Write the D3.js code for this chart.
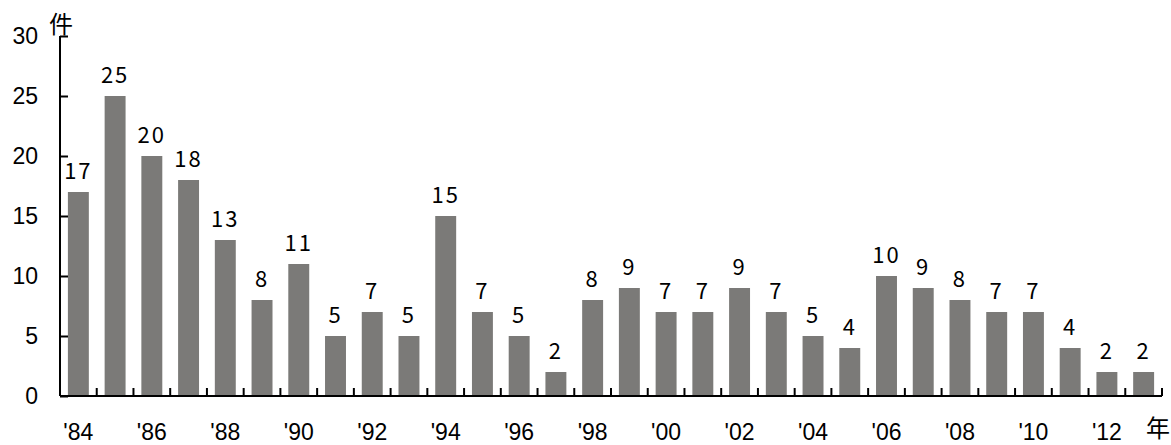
<!DOCTYPE html>
<html>
<head>
<meta charset="utf-8">
<script src="https://cdn.jsdelivr.net/npm/d3@7"></script>
<style>
  body { margin: 0; background: #fff; }
  text { fill: #000; }
</style>
</head>
<body>
<div id="chart"></div>
<script>
const years = d3.range(1984, 2014);
const counts = [17, 25, 20, 18, 13, 8, 11, 5, 7, 5, 15, 7, 5, 2, 8, 9, 7, 7, 9, 7, 5, 4, 10, 9, 8, 7, 7, 4, 2, 2];
const yTicks = [0, 5, 10, 15, 20, 25, 30];

document.addEventListener("DOMContentLoaded", draw)

function draw(){
    const width = 1171;
    const height = 445;
    const left = 60, right = 1162, top = 36, zero = 396;

    const svg = d3.select("#chart").append("svg")
        .attr("width", width)
        .attr("height", height);

    const x = d3.scaleBand()
        .domain(years)
        .range([left, right])
        .paddingInner(0.43)
        .paddingOuter(0.215);

    const y = d3.scaleLinear()
        .domain([0, 30])
        .range([zero, top]);

    // bars
    svg.append("g")
        .selectAll("rect")
        .data(counts)
        .enter()
        .append("rect")
        .attr("x", (d, i) => x(years[i]))
        .attr("y", d => y(d))
        .attr("width", x.bandwidth())
        .attr("height", d => y(0) - y(d))
        .attr("fill", "#7b7a78");

    // value labels
    svg.append("g")
        .selectAll("text")
        .data(counts)
        .enter()
        .append("text")
        .attr("x", (d, i) => x(years[i]) + x.bandwidth() / 2)
        .attr("y", d => y(d) - 13)
        .attr("text-anchor", "middle")
        .style("font-family", "'Noto Sans CJK JP', sans-serif")
        .style("font-size", "22px")
        .style("letter-spacing", "2px")
        .text(d => d);

    // y axis
    const yAxis = d3.axisRight(y)
        .tickValues(yTicks)
        .tickSize(8)
        .tickFormat("");
    svg.append("g")
        .attr("transform", "translate(" + left + ",0)")
        .call(yAxis)
        .call(g => g.select(".domain").attr("d", "M0," + top + "V" + zero))
        .call(g => g.selectAll("line, path").attr("stroke", "#000").attr("stroke-width", 2));

    svg.append("g")
        .selectAll("text")
        .data(yTicks)
        .enter()
        .append("text")
        .attr("x", 38)
        .attr("y", d => y(d))
        .attr("dy", "0.36em")
        .attr("text-anchor", "end")
        .style("font-family", "'Liberation Sans', Arial, sans-serif")
        .style("font-size", "23px")
        .text(d => d);

    // x axis: ticks between bars, pointing up
    const edges = years.map(yr => x(yr) - x.step() * x.paddingInner() / 2).concat([right]);
    const xAxisG = svg.append("g");
    xAxisG.append("line")
        .attr("x1", left).attr("x2", right)
        .attr("y1", zero).attr("y2", zero)
        .attr("stroke", "#000").attr("stroke-width", 2);
    xAxisG.selectAll(".tick")
        .data(edges.slice(1))
        .enter()
        .append("line")
        .attr("x1", d => d).attr("x2", d => d)
        .attr("y1", zero).attr("y2", zero - 8)
        .attr("stroke", "#000").attr("stroke-width", 2);

    svg.append("g")
        .selectAll("text")
        .data(years.filter((yr, i) => i % 2 === 0))
        .enter()
        .append("text")
        .attr("x", yr => x(yr) + x.bandwidth() / 2)
        .attr("y", 440)
        .attr("text-anchor", "middle")
        .style("font-family", "'Liberation Sans', Arial, sans-serif")
        .style("font-size", "23px")
        .text(yr => "'" + String(yr).slice(2));

    // unit labels
    svg.append("text")
        .attr("x", 61).attr("y", 33)
        .attr("text-anchor", "middle")
        .style("font-family", "'Noto Sans CJK JP', sans-serif")
        .style("font-size", "24px")
        .text("件");

    svg.append("text")
        .attr("x", 1158).attr("y", 437)
        .attr("text-anchor", "middle")
        .style("font-family", "'Noto Sans CJK JP', sans-serif")
        .style("font-size", "24px")
        .text("年");
}
</script>
</body>
</html>
